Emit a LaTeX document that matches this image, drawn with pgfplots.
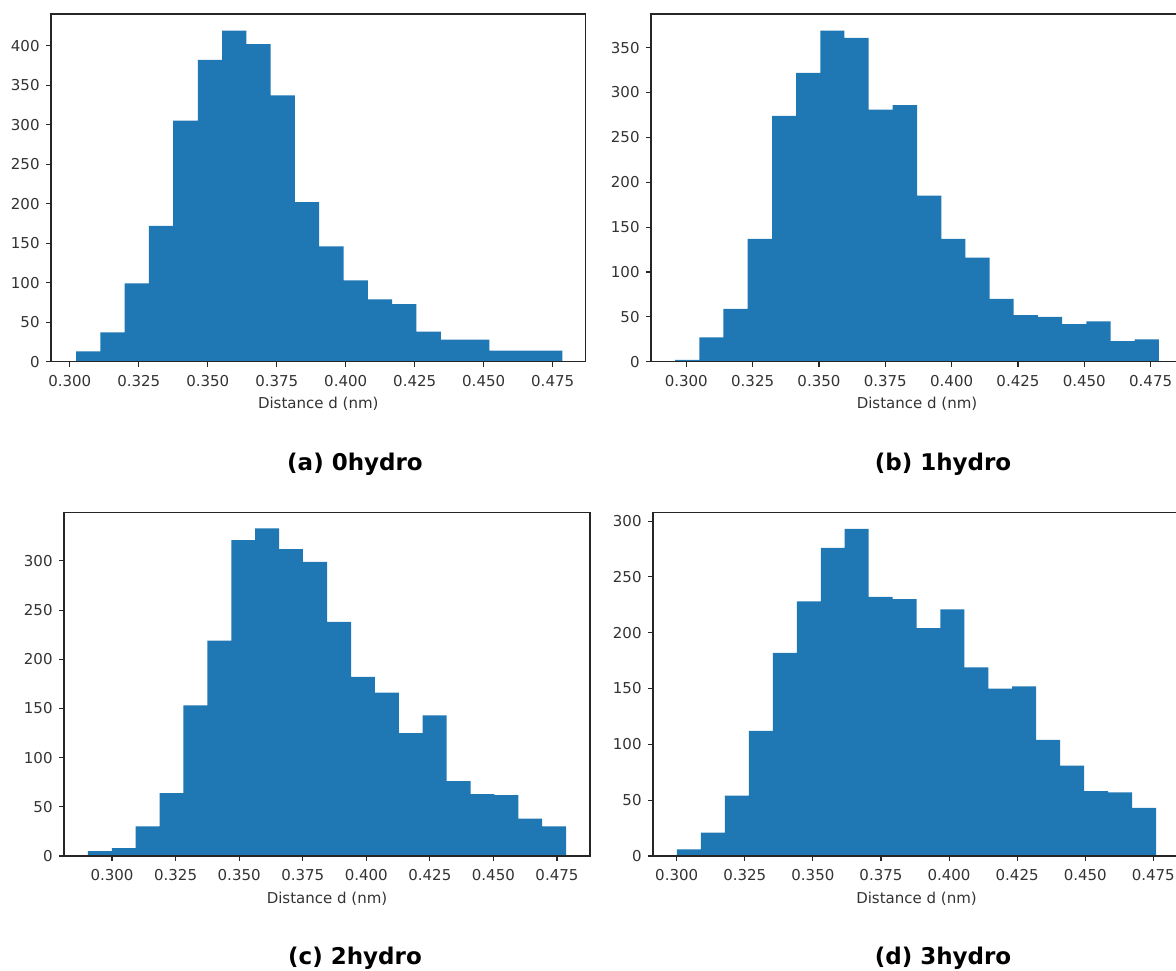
\documentclass[border=0pt]{standalone}
\usepackage{fontspec}
\setmainfont{DejaVu Sans}
\usepackage{pgfplots}
\pgfplotsset{compat=1.18}
\definecolor{mplblue}{HTML}{1F77B4}
\pgfplotsset{
  histax/.style={
    scale only axis, anchor=south west,
    axis line style={black!85, line width=1.1pt},
    tick style={black!85, line width=1.1pt},
    tick align=outside, major tick length=4.9pt,
    xtick pos=left, ytick pos=left,
    ymin=0,
    xtick={0.300,0.325,0.350,0.375,0.400,0.425,0.450,0.475},
    xticklabels={0.300,0.325,0.350,0.375,0.400,0.425,0.450,0.475},
    /pgf/number format/assume math mode=true,
    scaled x ticks=false, scaled y ticks=false,
    tick label style={font=\fontsize{15}{18}\selectfont, text=black!80},
    xticklabel style={yshift=-5pt},
    yticklabel style={xshift=-3pt},
    xlabel={Distance d (nm)},
    xlabel style={font=\fontsize{15}{18}\selectfont, text=black!80, at={(axis description cs:0.5,0)}, anchor=center, yshift=-42.5pt},
    axis on top,
  },
  histbar/.style={fill=mplblue, draw=none, const plot},
}
\begin{document}
\begin{tikzpicture}
\path[use as bounding box] (0pt,0pt) rectangle (1176pt,970pt);
% (a) 0hydro
\begin{axis}[histax, at={(51pt,608.3pt)}, width=534.5pt, height=347.7pt,
  xmin=0.2932, xmax=0.4869, ymax=440, ytick={0,50,...,400}]
\addplot[histbar] coordinates {
(0.3023,13) (0.3111,37) (0.3199,99) (0.3287,172) (0.3375,305)
(0.3464,382) (0.3552,419) (0.3640,402) (0.3728,337) (0.3816,202)
(0.3904,146) (0.3992,103) (0.4080,79) (0.4168,73) (0.4256,38)
(0.4345,28) (0.4433,28) (0.4521,14) (0.4609,14) (0.4697,14)
(0.4785,14)} \closedcycle;
\end{axis}
% (b) 1hydro
\begin{axis}[histax, at={(651pt,608.3pt)}, width=532pt, height=347.7pt,
  xmin=0.2867, xmax=0.4872, ymax=387.5, ytick={0,50,...,350}]
\addplot[histbar] coordinates {
(0.2958,2) (0.3049,27) (0.3140,59) (0.3231,137) (0.3323,274)
(0.3414,322) (0.3505,369) (0.3596,361) (0.3687,281) (0.3778,286)
(0.3870,185) (0.3961,137) (0.4052,116) (0.4143,70) (0.4234,52)
(0.4325,50) (0.4416,42) (0.4508,45) (0.4599,23) (0.4690,25)
(0.4781,25)} \closedcycle;
\end{axis}
% (c) 2hydro
\begin{axis}[histax, at={(64pt,114pt)}, width=526pt, height=343.3pt,
  xmin=0.2811, xmax=0.4880, ymax=349, ytick={0,50,...,300}]
\addplot[histbar] coordinates {
(0.2905,5) (0.2999,8) (0.3093,30) (0.3187,64) (0.3281,153)
(0.3375,219) (0.3469,321) (0.3563,333) (0.3657,312) (0.3751,299)
(0.3846,238) (0.3940,182) (0.4034,166) (0.4128,125) (0.4222,143)
(0.4316,76) (0.4410,63) (0.4504,62) (0.4598,38) (0.4692,30)
(0.4786,30)} \closedcycle;
\end{axis}
% (d) 3hydro
\begin{axis}[histax, at={(653pt,114pt)}, width=527pt, height=343.3pt,
  xmin=0.2913, xmax=0.4848, ymax=307.5, ytick={0,50,...,300}]
\addplot[histbar] coordinates {
(0.3001,6) (0.3089,21) (0.3177,54) (0.3265,112) (0.3353,182)
(0.3441,228) (0.3529,276) (0.3617,293) (0.3705,232) (0.3793,230)
(0.3881,204) (0.3968,221) (0.4056,169) (0.4144,150) (0.4232,152)
(0.4320,104) (0.4408,81) (0.4496,58) (0.4584,57) (0.4672,43)
(0.4760,43)} \closedcycle;
\end{axis}
\begin{scope}[every node/.style={font=\fontsize{23}{28}\selectfont\bfseries, text=black}]
\node at (355pt,506pt) {(a) 0hydro};
\node at (943pt,506pt) {(b) 1hydro};
\node at (355pt,12pt) {(c) 2hydro};
\node at (943pt,12pt) {(d) 3hydro};
\end{scope}
\end{tikzpicture}
\end{document}
